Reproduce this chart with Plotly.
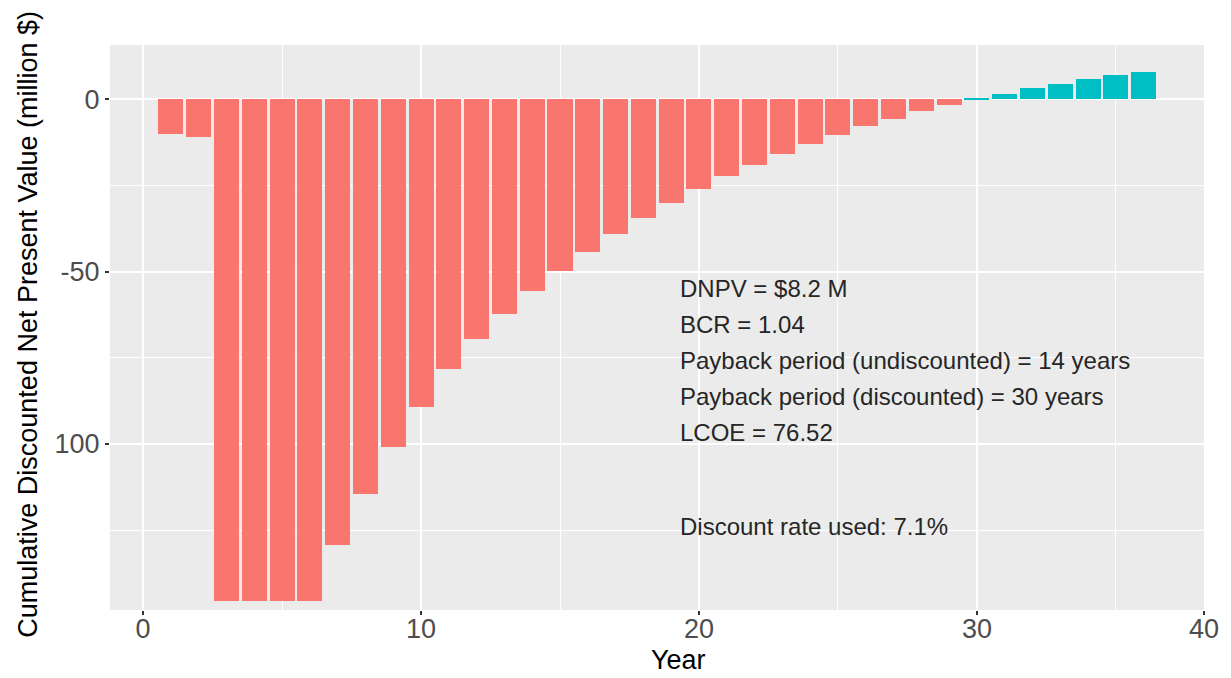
import plotly.graph_objects as go

# cumulative discounted NPV per year (million $)
years = list(range(1, 37))
dnpv = [
    -10.1, -11.0, -145.5, -145.5, -145.5, -145.5, -129.3, -114.5, -100.8, -89.2,
    -78.3, -69.5, -62.4, -55.7, -49.9, -44.2, -39.1, -34.3, -30.0, -26.0,
    -22.3, -18.9, -15.7, -13.0, -10.3, -7.8, -5.7, -3.4, -1.5, 0.3,
    1.7, 3.2, 4.6, 5.9, 7.1, 8.1,
]

x_tick_vals = [0, 10, 20, 30, 38.17]
x_tick_text = ["0", "10", "20", "30", "40"]
y_tick_vals = [0, -50, -100]
y_tick_text = ["0", "-50", "100"]

note_lines = [
    "DNPV = $8.2 M",
    "BCR = 1.04",
    "Payback period (undiscounted) = 14 years",
    "Payback period (discounted) = 30 years",
    "LCOE = 76.52",
    "Discount rate used: 7.1%",
]
note_y = [-54.8, -65.3, -75.8, -86.3, -96.7, -124.0]
note_x = 19.25

RED = "#F8766D"
TEAL = "#00BFC4"
FONT = "Liberation Sans, Arial, sans-serif"

colors = [TEAL if v > 0 else RED for v in dnpv]

fig = go.Figure(
    go.Bar(
        x=years,
        y=dnpv,
        width=0.9,
        marker=dict(color=colors, line=dict(width=0)),
        showlegend=False,
    )
)

for txt, yy in zip(note_lines, note_y):
    fig.add_annotation(
        x=note_x, y=yy, text=txt, showarrow=False,
        xanchor="left", yanchor="middle",
        font=dict(family=FONT, size=24, color="#262626"),
    )

# axis titles placed as in the picture
fig.add_annotation(
    xref="paper", yref="paper", x=0.52, y=-0.1185, text="Year",
    showarrow=False, xanchor="center", yanchor="bottom",
    font=dict(family=FONT, size=27, color="#000000"),
)
fig.add_annotation(
    xref="paper", yref="paper", x=-0.0753, y=0.506,
    text="Cumulative Discounted Net Present Value (million $)",
    textangle=-90, showarrow=False, xanchor="center", yanchor="middle",
    font=dict(family=FONT, size=27, color="#000000"),
)

grid = dict(
    showgrid=True, gridcolor="white", gridwidth=1.6, zeroline=False,
    ticks="outside", ticklen=4, tickwidth=1.5, tickcolor="#333333",
    tickfont=dict(family=FONT, size=27, color="#4D4D4D"),
    showline=False,
)

fig.update_layout(
    width=1231,
    height=678,
    margin=dict(l=110, r=19, t=45, b=68),
    paper_bgcolor="white",
    plot_bgcolor="#EBEBEB",
    bargap=0,
    xaxis=dict(
        range=[-1.19, 38.17], tickvals=x_tick_vals, ticktext=x_tick_text,
        ticklabelstandoff=-9,
        minor=dict(tickvals=[5, 15, 25, 35], showgrid=True,
                   gridcolor="white", gridwidth=0.8, ticks=""),
        **grid,
    ),
    yaxis=dict(
        range=[-148.2, 15.8], tickvals=y_tick_vals, ticktext=y_tick_text,
        minor=dict(tickvals=[-25, -75, -125], showgrid=True,
                   gridcolor="white", gridwidth=0.8, ticks=""),
        **grid,
    ),
)

# drop the page's default body margin so the figure fills the window
fig.write_html(
    "out.html",
    config={"displayModeBar": False},
    post_script="document.body.style.margin='0';document.body.style.overflow='hidden';",
)
